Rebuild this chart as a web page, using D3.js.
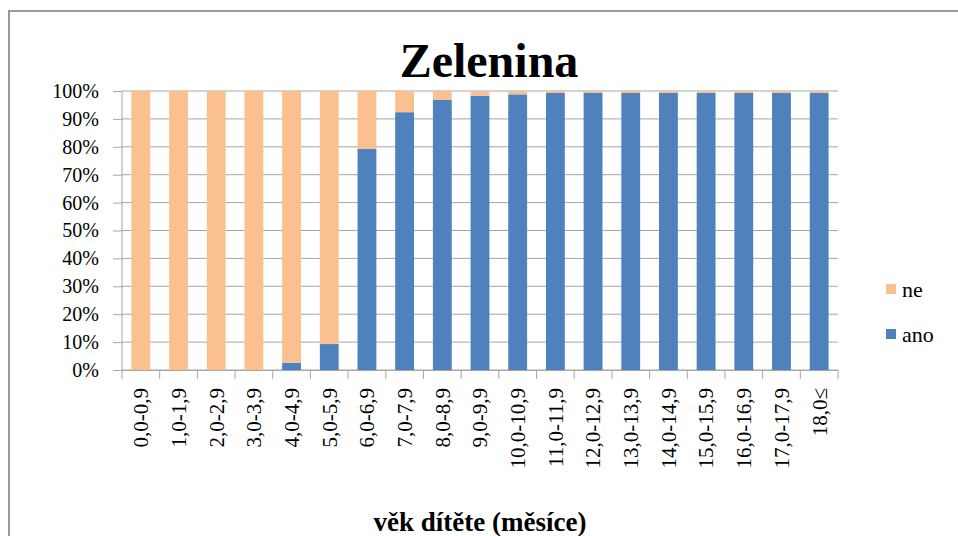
<!DOCTYPE html>
<html>
<head>
<meta charset="utf-8">
<script src="https://cdn.jsdelivr.net/npm/d3@7"></script>
<style>
  body { margin: 0; background: #fff; }
  svg text { font-family: "Liberation Serif", "Times New Roman", Tinos, "DejaVu Serif", "Noto Serif", serif; }
</style>
</head>
<body>
<div id="chart"></div>
<script>
// data
var categories = ["0,0-0,9", "1,0-1,9", "2,0-2,9", "3,0-3,9", "4,0-4,9", "5,0-5,9", "6,0-6,9",
  "7,0-7,9", "8,0-8,9", "9,0-9,9", "10,0-10,9", "11,0-11,9", "12,0-12,9", "13,0-13,9",
  "14,0-14,9", "15,0-15,9", "16,0-16,9", "17,0-17,9", "18,0\u2264"];
var ano = [0, 0, 0, 0, 2.6, 9.3, 79.2, 92.4, 96.9, 98.3, 98.8, 99.3, 99.3, 99.3, 99.3, 99.3, 99.3, 99.3, 99.3];
var ne = ano.map(function(v) { return 100 - v; });
var yTicks = [0, 10, 20, 30, 40, 50, 60, 70, 80, 90, 100];
var seriesNames = ["ano", "ne"];
var colors = { ano: "#4F81BD", ne: "#FAC090" };

var width = 958, height = 536;
var margin = { left: 122, right: 120, top: 91, bottom: 166 };

var svg = d3.select("#chart").append("svg")
  .attr("width", width)
  .attr("height", height);

// frame
svg.append("path")
  .attr("d", "M9,536 L9,11 L958,11")
  .attr("fill", "none")
  .attr("stroke", "#999")
  .attr("stroke-width", 2);

var x = d3.scaleBand()
  .domain(categories)
  .range([margin.left, width - margin.right])
  .paddingInner(0.5)
  .paddingOuter(0.25);

var y = d3.scaleLinear()
  .domain([0, 100])
  .range([height - margin.bottom, margin.top]);

// gridlines
svg.append("g")
  .selectAll("line")
  .data(yTicks)
  .enter()
  .append("line")
    .attr("x1", margin.left)
    .attr("x2", width - margin.right)
    .attr("y1", function(d) { return y(d); })
    .attr("y2", function(d) { return y(d); })
    .attr("stroke", "#a6a6a6")
    .attr("stroke-width", 1);

// stacked bars
var rows = categories.map(function(c, i) { return { cat: c, ano: ano[i], ne: ne[i] }; });
var stack = d3.stack().keys(seriesNames)(rows);

svg.append("g")
  .selectAll("g")
  .data(stack)
  .enter()
  .append("g")
    .attr("fill", function(d) { return colors[d.key]; })
  .selectAll("rect")
  .data(function(d) { return d; })
  .enter()
  .append("rect")
    .attr("x", function(d) { return x(d.data.cat); })
    .attr("width", x.bandwidth())
    .attr("y", function(d) { return y(d[1]); })
    .attr("height", function(d) { return y(d[0]) - y(d[1]); });

// y axis
var yAxis = svg.append("g")
  .attr("transform", "translate(" + margin.left + ",0)")
  .call(d3.axisLeft(y).tickValues(yTicks).tickSize(9).tickPadding(14)
    .tickFormat(function(d) { return d + "%"; }));
yAxis.attr("font-family", null);
yAxis.selectAll("line, path").attr("stroke", "#a6a6a6");
yAxis.select(".domain").attr("d", "M0," + y(100) + "V" + y(0));
yAxis.selectAll("text")
  .attr("font-size", 20)
  .attr("fill", "#000");

// x axis
var xAxis = svg.append("g")
  .attr("transform", "translate(0," + y(0) + ")")
  .call(d3.axisBottom(x).tickSize(0).tickPadding(0));
xAxis.attr("font-family", null);
xAxis.select(".domain").attr("stroke", "#a6a6a6");
// tick marks between categories
var step = x.step();
xAxis.selectAll(".sep")
  .data(d3.range(categories.length + 1))
  .enter()
  .append("line")
    .attr("x1", function(i) { return margin.left + i * step; })
    .attr("x2", function(i) { return margin.left + i * step; })
    .attr("y1", 0)
    .attr("y2", 9)
    .attr("stroke", "#a6a6a6");
xAxis.selectAll(".tick text")
  .attr("font-size", 21)
  .attr("fill", "#000")
  .attr("text-anchor", "end")
  .attr("dy", "0.35em")
  .attr("transform", "translate(0,18) rotate(-90)")
  .attr("y", 0)
  .attr("x", 0);

// title
svg.append("text")
  .attr("x", 489)
  .attr("y", 77)
  .attr("text-anchor", "middle")
  .attr("font-size", 48)
  .attr("font-weight", "bold")
  .text("Zelenina");

// x axis title
svg.append("text")
  .attr("x", 480)
  .attr("y", 531)
  .attr("text-anchor", "middle")
  .attr("font-size", 27)
  .attr("font-weight", "bold")
  .text("věk dítěte (měsíce)");

// legend
var legendItems = ["ne", "ano"];
var legend = svg.append("g")
  .selectAll("g")
  .data(legendItems)
  .enter()
  .append("g")
    .attr("transform", function(d, i) { return "translate(886," + (297 + i * 45) + ")"; });
legend.append("rect")
  .attr("x", 0)
  .attr("y", -13)
  .attr("width", 10)
  .attr("height", 10)
  .attr("fill", function(d) { return colors[d]; });
legend.append("text")
  .attr("x", 16)
  .attr("y", 0)
  .attr("font-size", 22)
  .text(function(d) { return d; });
</script>
</body>
</html>
